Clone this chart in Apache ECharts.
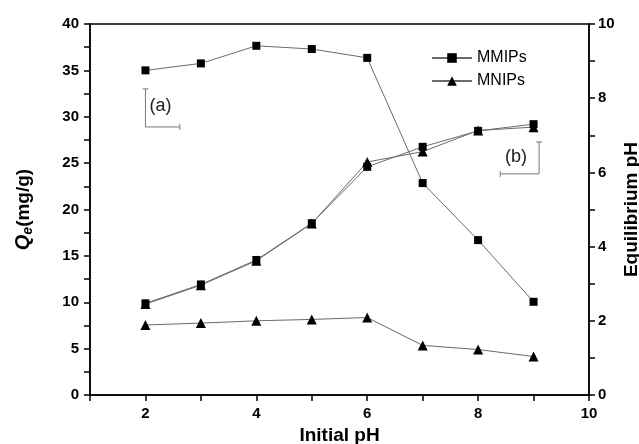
<!DOCTYPE html>
<html><head><meta charset="utf-8">
<script src="https://cdn.jsdelivr.net/npm/echarts@6/dist/echarts.min.js"></script>
<style>html,body{margin:0;padding:0;background:#fff}#c{width:639px;height:444px}</style>
</head><body><div id="c"></div>
<script>
const initialPH = [2, 3, 4, 5, 6, 7, 8, 9];
const qeMMIPs = [35.0, 35.75, 37.65, 37.3, 36.35, 22.85, 16.7, 10.05];
const qeMNIPs = [7.55, 7.75, 8.0, 8.15, 8.35, 5.35, 4.9, 4.15];
const eqPhMMIPs = [2.47, 2.98, 3.64, 4.63, 6.15, 6.69, 7.12, 7.3];
const eqPhMNIPs = [2.45, 2.96, 3.62, 4.62, 6.28, 6.56, 7.13, 7.22];
const xTicks = [2, 4, 6, 8, 10];

const font = 'Liberation Sans, Arial, sans-serif';
const lineGray = '#6a6a6a';
function pts(xs, ys){ return xs.map((x,i)=>[x, ys[i]]); }

const chart = echarts.init(document.getElementById('c'));
function mk(name, data, yIdx, sym){
  return {
    name, type:'line', yAxisIndex:yIdx, data, symbol:sym, symbolSize: sym==='triangle'?10:8,
    showSymbol:true, animation:false,
    itemStyle:{color:'#000'}, lineStyle:{color:lineGray, width:1}
  };
}
const tickLabel = {fontFamily:font, fontSize:15, fontWeight:'bold', color:'#000'};
chart.setOption({
  animation:false,
  grid:{left:90, right:50, top:24, bottom:49, show:true, borderColor:'#000', borderWidth:1.5,
    containLabel:false, outerBoundsMode:'none'},
  legend:{
    data:['MMIPs','MNIPs'], orient:'vertical', left:426, top:45, itemGap:7,
    itemWidth:40, itemHeight:12,
    textStyle:{fontFamily:font, fontSize:16, color:'#000'}
  },
  xAxis:{
    type:'value', min:1, max:10, interval:1,
    name:'Initial pH', nameLocation:'middle', nameGap:31,
    nameTextStyle:{fontFamily:font, fontSize:19, fontWeight:'bold', color:'#000'},
    axisLine:{lineStyle:{color:'#000', width:1.5}},
    axisTick:{show:true, length:6, lineStyle:{color:'#000', width:1.5}},
    axisLabel:Object.assign({margin:11, formatter:v=> xTicks.indexOf(v)>=0 ? String(v) : ''}, tickLabel),
    splitLine:{show:false}
  },
  yAxis:[{
    type:'value', min:0, max:40, interval:2.5, position:'left',
    name:'{q|Q}{e|e}{n|(mg/g)}', nameLocation:'middle', nameGap:55, nameRotate:90,
    nameTextStyle:{fontFamily:font, fontSize:19, fontWeight:'bold', color:'#000',
      rich:{
        q:{fontFamily:font, fontSize:20, fontWeight:'bold', fontStyle:'italic', color:'#000'},
        e:{fontFamily:font, fontSize:14, fontWeight:'bold', fontStyle:'italic', color:'#000', padding:[9,0,0,0]},
        n:{fontFamily:font, fontSize:19, fontWeight:'bold', color:'#000'}
      }},
    axisLine:{show:true, lineStyle:{color:'#000', width:1.5}},
    axisTick:{show:true, length:6, lineStyle:{color:'#000', width:1.5}},
    axisLabel:Object.assign({margin:11, formatter:v=> (v%5===0) ? String(v) : ''}, tickLabel),
    splitLine:{show:false}
  },{
    type:'value', min:0, max:10, interval:1, position:'right',
    name:'Equilibrium pH', nameLocation:'middle', nameGap:33, nameRotate:90, nameMoveOverlap:false,
    nameTextStyle:{fontFamily:font, fontSize:19, fontWeight:'bold', color:'#000'},
    axisLine:{show:true, lineStyle:{color:'#000', width:1.5}},
    axisTick:{show:true, length:6, lineStyle:{color:'#000', width:1.5}},
    axisLabel:Object.assign({margin:9, formatter:v=> (v%2===0) ? String(v) : ''}, tickLabel),
    splitLine:{show:false}
  }],
  series:[
    mk('MMIPs', pts(initialPH, qeMMIPs), 0, 'rect'),
    mk('MNIPs', pts(initialPH, qeMNIPs), 0, 'triangle'),
    mk('MMIPs', pts(initialPH, eqPhMMIPs), 1, 'rect'),
    mk('MNIPs', pts(initialPH, eqPhMNIPs), 1, 'triangle')
  ]
});

// annotation brackets (a) -> left axis, (b) -> right axis
const L = p => chart.convertToPixel({xAxisIndex:0, yAxisIndex:0}, p);
const R = p => chart.convertToPixel({xAxisIndex:0, yAxisIndex:1}, p);
const a1 = L([2, 33.0]), a2 = L([2, 28.9]), a3 = L([2.62, 28.9]);
const b1 = R([9.1, 6.82]), b2 = R([9.1, 5.96]), b3 = R([8.4, 5.96]);
const ann = '#777';
const ls = {stroke:ann, lineWidth:1, fill:null};
chart.setOption({graphic:[
  {type:'polyline', shape:{points:[a1,a2,a3]}, style:ls},
  {type:'line', shape:{x1:a1[0]-3,y1:a1[1],x2:a1[0]+3,y2:a1[1]}, style:ls},
  {type:'line', shape:{x1:a3[0],y1:a3[1]-3,x2:a3[0],y2:a3[1]+3}, style:ls},
  {type:'text', x:a1[0]+4, y:(a1[1]+a2[1])/2-11, style:{text:'(a)', fontFamily:font, fontSize:18, fill:'#222'}},
  {type:'polyline', shape:{points:[b1,b2,b3]}, style:ls},
  {type:'line', shape:{x1:b1[0]-3,y1:b1[1],x2:b1[0]+3,y2:b1[1]}, style:ls},
  {type:'line', shape:{x1:b3[0],y1:b3[1]-3,x2:b3[0],y2:b3[1]+3}, style:ls},
  {type:'text', x:b1[0]-34, y:(b1[1]+b2[1])/2-10, style:{text:'(b)', fontFamily:font, fontSize:18, fill:'#222'}}
]});
</script></body></html>
